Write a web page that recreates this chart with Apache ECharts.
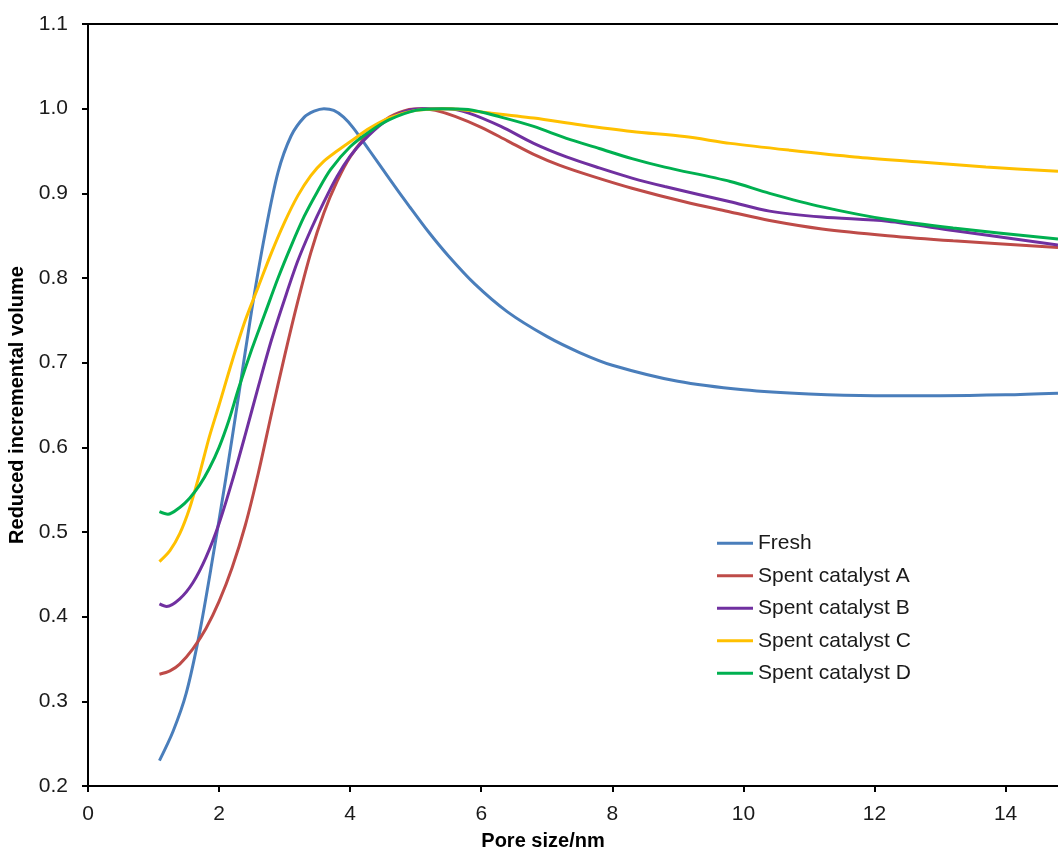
<!DOCTYPE html>
<html>
<head>
<meta charset="utf-8">
<script src="https://cdn.jsdelivr.net/npm/echarts@6/dist/echarts.min.js"></script>
<style>html,body{margin:0;padding:0;background:#fff}#c{width:1058px;height:852px}</style>
</head>
<body>
<div id="c"></div>
<script>
const seriesNames = ["Fresh", "Spent catalyst A", "Spent catalyst B", "Spent catalyst C", "Spent catalyst D"];
const xTicks = [0, 2, 4, 6, 8, 10, 12, 14];

const freshX = [1.09,1.3,1.5,1.7,1.9,2.1,2.3,2.5,2.7,2.9,3.1,3.3,3.45,3.6,3.75,3.9,4.05,4.3,4.6,4.9,5.2,5.5,5.9,6.4,7.0,7.5,8.0,9.0,10.0,11.0,12.0,13.0,14.0,14.8];
const freshY = [0.230,0.265,0.310,0.380,0.468,0.562,0.662,0.763,0.852,0.925,0.968,0.990,0.997,1.000,0.998,0.990,0.977,0.950,0.917,0.885,0.854,0.826,0.793,0.760,0.731,0.712,0.697,0.678,0.668,0.663,0.661,0.661,0.662,0.664];

const spentAX = [1.09,1.25,1.4,1.6,1.8,2.0,2.2,2.4,2.6,2.8,3.0,3.2,3.4,3.6,3.8,4.0,4.3,4.6,4.9,5.1,5.3,5.6,6.0,6.4,6.8,7.2,7.7,8.3,9.1,9.8,10.4,11.2,12.2,13.2,14.8];
const spentAY = [0.332,0.336,0.344,0.362,0.386,0.418,0.458,0.508,0.570,0.640,0.708,0.772,0.830,0.877,0.914,0.943,0.972,0.990,0.999,1.000,0.998,0.991,0.978,0.962,0.946,0.933,0.920,0.906,0.890,0.878,0.868,0.858,0.850,0.844,0.836];

const spentBX = [1.09,1.2,1.4,1.6,1.8,2.0,2.2,2.4,2.6,2.8,3.0,3.2,3.4,3.6,3.8,4.0,4.2,4.5,4.8,5.1,5.5,5.8,6.3,6.8,7.3,7.8,8.3,8.8,9.8,10.4,11.2,12.2,13.2,14.8];
const spentBY = [0.415,0.412,0.421,0.440,0.470,0.510,0.560,0.615,0.672,0.727,0.775,0.820,0.857,0.890,0.920,0.944,0.962,0.983,0.996,1.000,1.000,0.995,0.979,0.959,0.943,0.930,0.918,0.908,0.890,0.879,0.872,0.867,0.856,0.839];

const spentCX = [1.09,1.25,1.4,1.55,1.7,1.85,2.0,2.2,2.4,2.6,2.8,3.0,3.2,3.4,3.6,3.8,4.0,4.3,4.6,5.0,5.5,6.0,6.8,7.5,8.3,9.1,9.8,10.7,11.7,12.7,13.7,14.8];
const spentCY = [0.465,0.478,0.498,0.528,0.568,0.612,0.650,0.702,0.750,0.790,0.830,0.866,0.897,0.921,0.938,0.950,0.961,0.977,0.989,0.998,1.000,0.996,0.989,0.981,0.973,0.967,0.959,0.951,0.943,0.937,0.931,0.926];

const spentDX = [1.09,1.22,1.4,1.55,1.7,1.85,2.0,2.15,2.3,2.5,2.7,2.9,3.1,3.3,3.5,3.7,4.0,4.3,4.6,5.0,5.4,5.8,6.3,6.8,7.3,7.8,8.3,8.8,9.8,10.4,11.2,12.2,13.2,14.8];
const spentDY = [0.524,0.521,0.529,0.540,0.555,0.575,0.600,0.632,0.670,0.716,0.758,0.800,0.838,0.873,0.902,0.928,0.955,0.973,0.987,0.998,1.000,0.999,0.990,0.979,0.965,0.953,0.941,0.931,0.914,0.900,0.884,0.869,0.859,0.846];

const colors = ["#4A7EBB", "#BE4B48", "#7030A0", "#FFC000", "#00B050"];
const xs = [freshX, spentAX, spentBX, spentCX, spentDX];
const ys = [freshY, spentAY, spentBY, spentCY, spentDY];

const font = "Liberation Sans, Arial, sans-serif";
const chart = echarts.init(document.getElementById('c'), null, {renderer: 'canvas'});

chart.setOption({
  animation: false,
  backgroundColor: '#ffffff',
  grid: {left: 88, right: 0, top: 24, bottom: 66, containLabel: false, outerBoundsMode: 'none'},
  legend: {
    orient: 'vertical', left: 717, top: 532, padding: 0,
    icon: 'rect', itemWidth: 36, itemHeight: 3, itemGap: 10,
    textStyle: {fontFamily: font, fontSize: 21, color: '#1a1a1a', lineHeight: 22.5},
    data: seriesNames
  },
  xAxis: [{
    type: 'value', min: 0, max: 14.8, interval: 2, position: 'bottom',
    axisLine: {show: true, onZero: false, lineStyle: {color: '#000', width: 2}},
    axisTick: {show: true, length: 6, lineStyle: {color: '#000', width: 2}},
    axisLabel: {fontFamily: font, fontSize: 21, color: '#1a1a1a', margin: 18, showMaxLabel: false,
      formatter: v => xTicks.includes(v) ? String(v) : ''},
    splitLine: {show: false}
  }, {
    type: 'value', min: 0, max: 14.8, position: 'top',
    axisLine: {show: true, lineStyle: {color: '#000', width: 2}},
    axisTick: {show: false}, axisLabel: {show: false}, splitLine: {show: false}
  }],
  yAxis: {
    type: 'value', min: 0.2, max: 1.1, interval: 0.1,
    name: 'Reduced incremental volume', nameLocation: 'middle', nameGap: 50,
    nameTextStyle: {fontFamily: font, fontSize: 20, fontWeight: 'bold', color: '#000'},
    axisLine: {show: true, onZero: false, lineStyle: {color: '#000', width: 2}},
    axisTick: {show: true, length: 6, lineStyle: {color: '#000', width: 2}},
    axisLabel: {fontFamily: font, fontSize: 21, color: '#1a1a1a', margin: 20, formatter: v => v.toFixed(1)},
    splitLine: {show: false}
  },
  graphic: [{
    type: 'text', x: 543, y: 841,
    style: {text: 'Pore size/nm', font: 'bold 20px ' + font, fill: '#000', align: 'center', verticalAlign: 'middle'}
  }],
  series: seriesNames.map((n, i) => ({
    name: n, type: 'line', xAxisIndex: 0, smooth: 0.3, symbol: 'none',
    lineStyle: {color: colors[i], width: 3},
    itemStyle: {color: colors[i]},
    data: xs[i].map((x, j) => [x, ys[i][j]])
  }))
});
</script>
</body>
</html>
